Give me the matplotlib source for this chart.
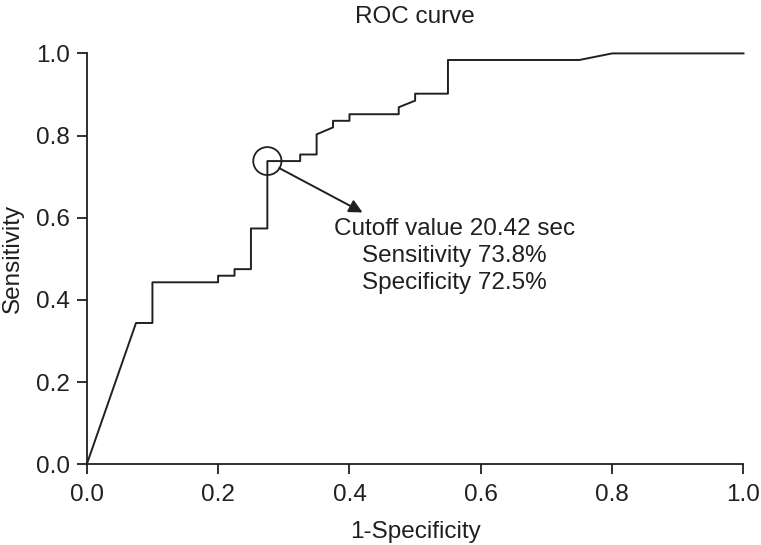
import numpy as np
import matplotlib.pyplot as plt
from matplotlib.patches import Ellipse

plt.rcParams['font.family'] = ['Liberation Sans', 'DejaVu Sans']

# ---- ROC data ----
fpr = [0.0, 0.075, 0.1, 0.1, 0.2, 0.2, 0.225, 0.225, 0.25, 0.25, 0.275, 0.275,
       0.325, 0.325, 0.35, 0.35, 0.375, 0.375, 0.4, 0.4, 0.475, 0.475, 0.5, 0.5,
       0.55, 0.55, 0.75, 0.8, 1.0]
tpr = [0.0, 0.344, 0.344, 0.443, 0.443, 0.459, 0.459, 0.475, 0.475, 0.574, 0.574, 0.738,
       0.738, 0.754, 0.754, 0.803, 0.820, 0.836, 0.836, 0.852, 0.852, 0.869, 0.885, 0.902,
       0.902, 0.984, 0.984, 1.0, 1.0]

cut_x, cut_y = 0.275, 0.738
label = "Cutoff value 20.42 sec\nSensitivity 73.8%\nSpecificity 72.5%"
ticks = [0.0, 0.2, 0.4, 0.6, 0.8, 1.0]

ink = '#231f20'
fs = 17.5

# ---- Plot ----
fig = plt.figure(figsize=(7.61, 5.45), dpi=100)
ax = fig.add_axes([0.114, 0.148, 0.863, 0.754])
ax.plot(fpr, tpr, color=ink, lw=1.4, clip_on=False)

# circle round the cutoff point
ax.add_patch(Ellipse((cut_x, cut_y), 0.043, 0.068, fill=False, ec=ink, lw=1.3))
ax.annotate("", xy=(0.42, 0.613), xytext=(0.293, 0.721),
            arrowprops=dict(arrowstyle='-|>', color=ink, lw=1.4,
                            mutation_scale=20, shrinkA=0, shrinkB=0))
ax.text(0.560, 0.600, label, ha='center', va='top', fontsize=fs,
        linespacing=1.3, color=ink)

ax.set_xlim(0, 1)
ax.set_ylim(0, 1)
ax.set_xticks(ticks)
ax.set_yticks(ticks)
ax.set_xticklabels([f"{t:.1f}" for t in ticks])
ax.set_yticklabels([f"{t:.1f}" for t in ticks])
ax.tick_params(direction='out', length=7, width=1.3, labelsize=fs, colors=ink, pad=5)
ax.tick_params(axis='x', pad=7)
for s in ['top', 'right']:
    ax.spines[s].set_visible(False)
for s in ['left', 'bottom']:
    ax.spines[s].set_linewidth(1.3)
    ax.spines[s].set_color(ink)

ax.set_xlabel("1-Specificity", fontsize=fs, labelpad=11, color=ink)
ax.set_ylabel("Sensitivity", fontsize=fs, labelpad=9, color=ink)
ax.set_title("ROC curve", fontsize=fs, pad=22, color=ink)

fig.savefig("out.png", dpi=100)
